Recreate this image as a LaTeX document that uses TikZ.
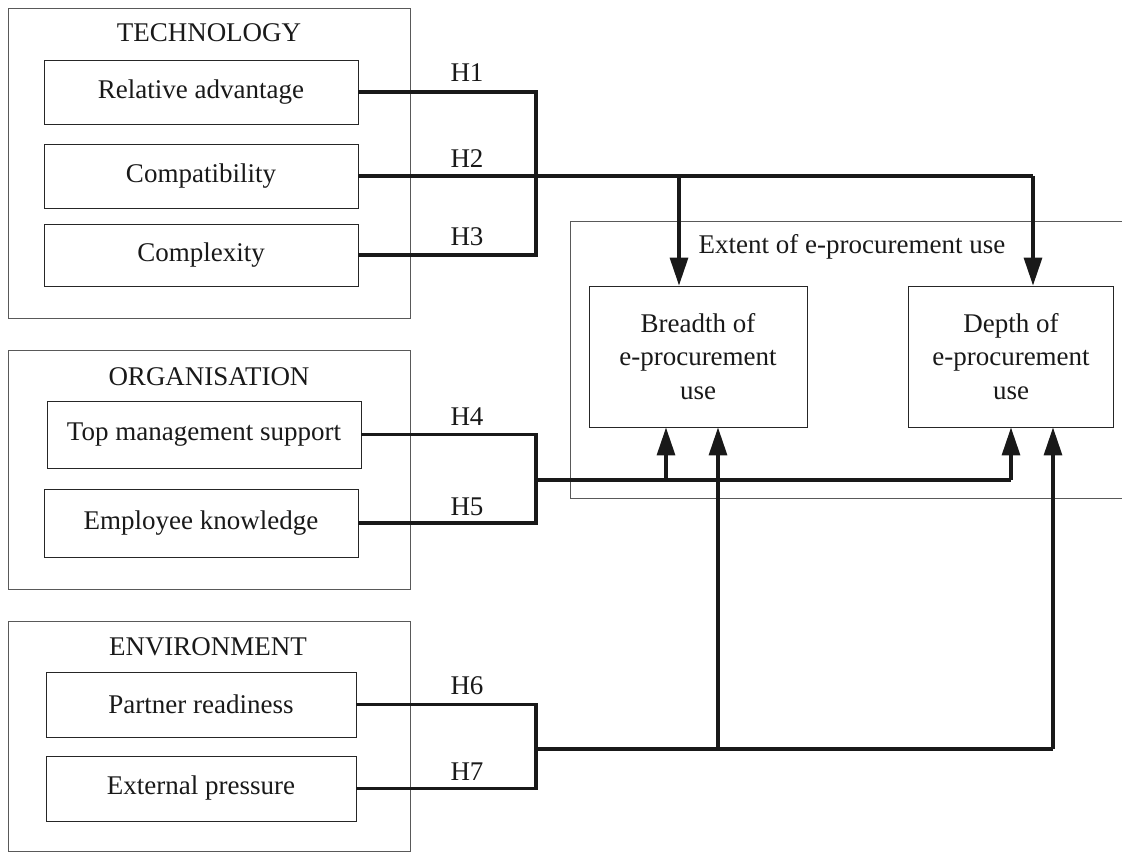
\documentclass[tikz,border=0pt]{standalone}
\usepackage{fontspec}
\setmainfont{Liberation Serif}
\usetikzlibrary{arrows.meta}
\begin{document}
\begin{tikzpicture}[x=1pt,y=-1pt,
  every node/.style={font=\fontsize{27}{33.5}\selectfont, text=black!90},
  group/.style={draw=black!65, line width=0.9pt, inner sep=0pt},
  factor/.style={draw=black!85, line width=0.9pt, minimum width=314pt, minimum height=64pt, inner sep=0pt},
  outcome/.style={draw=black!85, line width=0.9pt, minimum height=141pt, align=center, inner sep=0pt},
  link/.style={draw=black!90, line width=3.2pt, line join=miter},
  effect/.style={link, -{Triangle[length=28pt,width=18pt]}},
  hyp/.style={inner sep=0pt}]
\useasboundingbox (0,0) rectangle (1122,853);

% construct groups
\node[group, minimum width=402pt, minimum height=310pt] (tech) at (209,163) {};
\node[group, minimum width=402pt, minimum height=239pt] (org)  at (209,469.5) {};
\node[group, minimum width=402pt, minimum height=230pt] (env)  at (209,736) {};
\node (techT) at (209,33)  {TECHNOLOGY};
\node (orgT)  at (209,377) {ORGANISATION};
\node (envT)  at (208,647) {ENVIRONMENT};

% factors
\node[factor] (ra)   at (201,92)    {Relative advantage};
\node[factor] (comp) at (201,176)   {Compatibility};
\node[factor, minimum height=62pt] (cplx) at (201,255) {Complexity};
\node[factor, minimum height=67pt] (tms) at (204,434.5) {Top management support};
\node[factor, minimum height=68pt] (ek)  at (201,523)   {Employee knowledge};
\node[factor, minimum width=310pt, minimum height=65pt] (pr) at (201,704.5) {Partner readiness};
\node[factor, minimum width=310pt, minimum height=65pt] (ep) at (201,788.5) {External pressure};

% outcome container (open to the right)
\draw[draw=black!65, line width=0.9pt] (1122,221) -- (570,221) -- (570,498) -- (1122,498);
\node (extT) at (852,247) {Extent of e-procurement use};
\node[outcome, minimum width=218pt] (br) at (698,356.5)  {Breadth of\\e-procurement\\use};
\node[outcome, minimum width=205pt] (dp) at (1011,356.5) {Depth of\\e-procurement\\use};

% junction points
\coordinate (jT) at (536,176);
\coordinate (jO) at (536,480);
\coordinate (jE) at (536,749);

% technology links
\draw[link] (ra.east) -- (536,92) -- (536,255) -- (cplx.east);
\draw[link] (comp.east) -- (1033,176);
\draw[effect] (1033,176) -- (1033,0 |- dp.north);
\draw[effect] (679,176) -- (679,0 |- br.north);

% organisation links
\draw[link] (tms.east) -- (536,0 |- tms.east) -- (536,0 |- ek.east) -- (ek.east);
\draw[link] (jO) -- (1011,480);
\draw[effect] (1011,480) -- (1011,0 |- dp.south);
\draw[effect] (666,480) -- (666,0 |- br.south);

% environment links
\draw[link] (pr.east) -- (536,0 |- pr.east) -- (536,0 |- ep.east) -- (ep.east);
\draw[link] (jE) -- (1053,749);
\draw[effect] (1053,749) -- (1053,0 |- dp.south);
\draw[effect] (718,749) -- (718,0 |- br.south);

% hypothesis labels
\node[hyp] (h1) at (467,73)  {H1};
\node[hyp] (h2) at (467,159) {H2};
\node[hyp] (h3) at (467,237) {H3};
\node[hyp] (h4) at (467,417) {H4};
\node[hyp] (h5) at (467,507) {H5};
\node[hyp] (h6) at (467,686) {H6};
\node[hyp] (h7) at (467,772) {H7};
\end{tikzpicture}
\end{document}
